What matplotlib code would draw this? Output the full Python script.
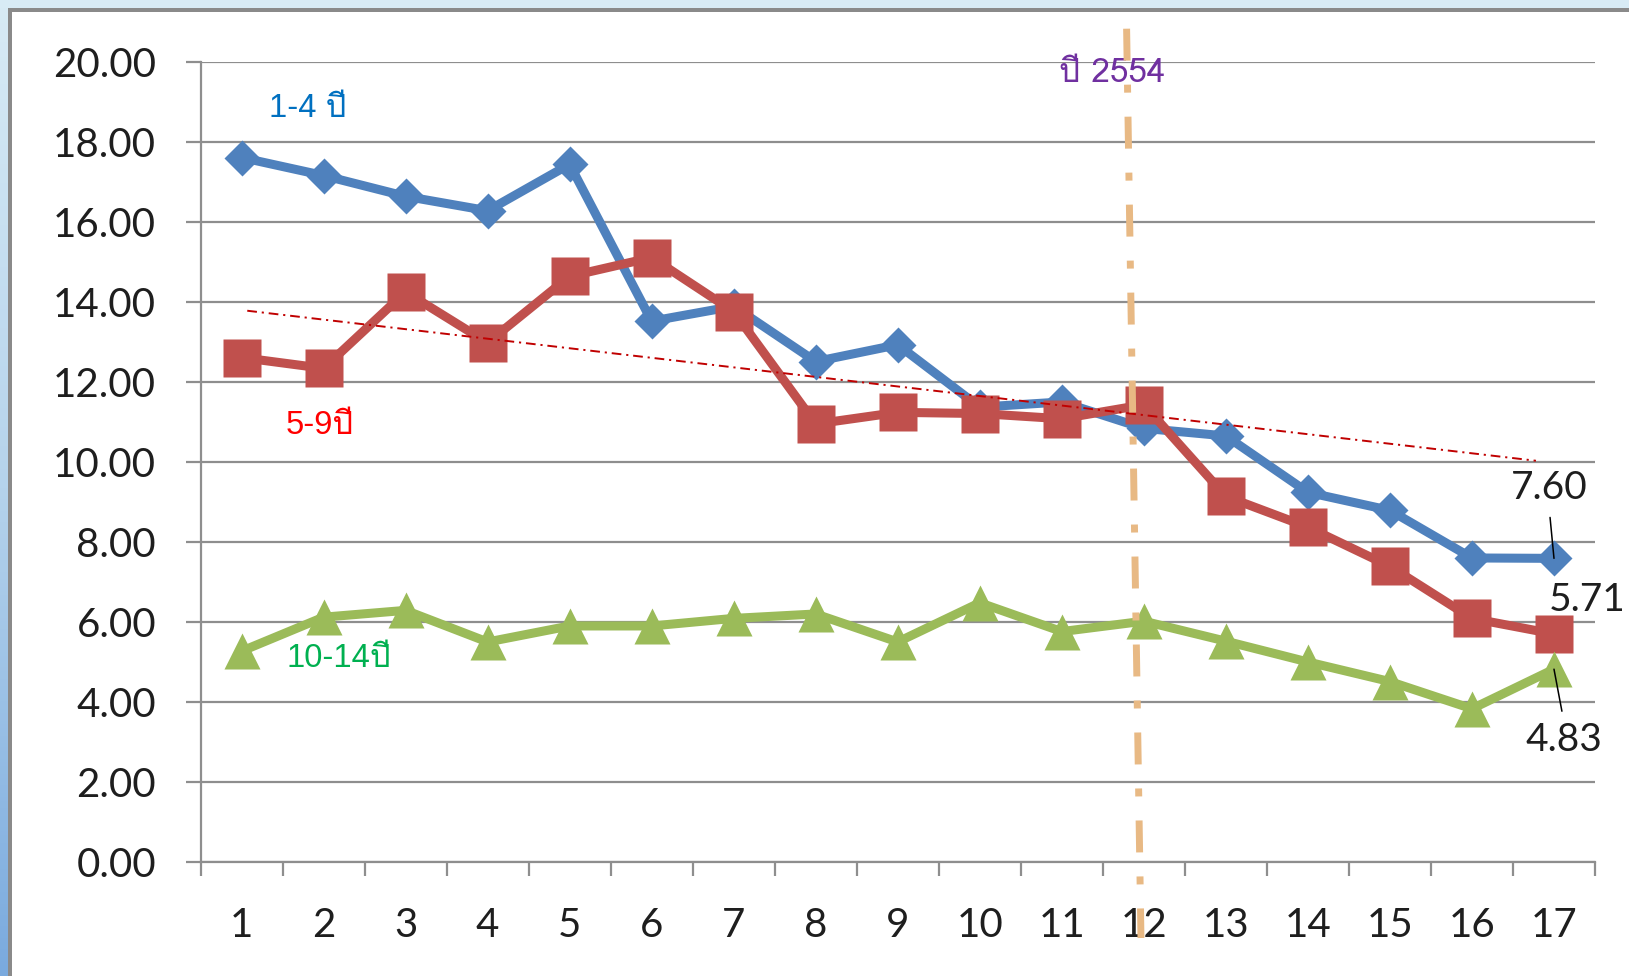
import numpy as np
import matplotlib
matplotlib.use('Agg')
import matplotlib.pyplot as plt
import matplotlib.font_manager as fm
from matplotlib.ft2font import FT2Font
from matplotlib.colors import LinearSegmentedColormap
from matplotlib.patches import Rectangle

# data
periods = list(range(1, 18))
age_1_4 = [17.62, 17.17, 16.65, 16.29, 17.45, 13.53, 13.90, 12.52, 12.94,
           11.38, 11.51, 10.85, 10.66, 9.25, 8.80, 7.61, 7.60]
age_5_9 = [12.62, 12.35, 14.26, 12.99, 14.65, 15.12, 13.77, 10.96, 11.25,
           11.22, 11.09, 11.44, 9.15, 8.38, 7.40, 6.10, 5.71]
age_10_14 = [5.28, 6.13, 6.30, 5.51, 5.91, 5.91, 6.10, 6.21, 5.51,
             6.49, 5.77, 6.03, 5.53, 5.01, 4.52, 3.84, 4.83]
series_names = ['1-4 ปี', '5-9ปี', '10-14ปี']
y_ticks = [0, 2, 4, 6, 8, 10, 12, 14, 16, 18, 20]
trend_x = [1.07, 16.78]
trend_y = [13.79, 10.04]
marker_x = [11.79, 11.965]
marker_y = [20.84, -1.89]
marker_text = 'ปี 2554'


def find_thai_family():
    """Return the name of an installed font that has Thai glyphs."""
    seen = set()
    for f in fm.fontManager.ttflist:
        if f.fname in seen or 'CJK' in f.name:
            continue
        seen.add(f.fname)
        try:
            if 0x0E1B in FT2Font(f.fname).get_charmap():
                return f.name
        except Exception:
            pass
    return None


thai = find_thai_family()
label_family = ['Liberation Sans'] + ([thai] if thai else []) + ['DejaVu Sans']
narrow_family = ['Liberation Sans Narrow'] + ([thai] if thai else []) + ['DejaVu Sans']
num_family = ['Lato', 'DejaVu Sans']

W, H = 1629, 976
fig = plt.figure(figsize=(W / 100, H / 100), dpi=100, facecolor='white')

# slide-like frame around the chart
bg = fig.add_axes([0, 0, 1, 1], zorder=0)
grad = LinearSegmentedColormap.from_list('strip', ['#d8ebf5', '#b5d3ec', '#7aaade'])
bg.imshow(np.linspace(0, 1, 256).reshape(-1, 1), extent=[0, 8, H, 0],
          cmap=grad, aspect='auto')
bg.add_patch(Rectangle((0, 0), W, 8, color='#d8ebf5', lw=0))
bg.add_patch(Rectangle((8, 8), W - 8, 4, color='#8a8a8a', lw=0))
bg.add_patch(Rectangle((8, 8), 4, H - 8, color='#8a8a8a', lw=0))
bg.set_xlim(0, W)
bg.set_ylim(H, 0)
bg.axis('off')

ax = fig.add_axes([200.5 / W, 1 - 862.4 / H, 1394.5 / W, 800.1 / H], zorder=1)
ax.set_facecolor('white')

grid_c = '#8e8e8e'
ax.plot(periods, age_1_4, color='#4f81bd', lw=6.5, marker='D', ms=18.7,
        mec='none', zorder=3)
ax.plot(periods, age_5_9, color='#c0504d', lw=6.5, marker='s', ms=27,
        mec='none', zorder=4)
ax.plot(periods, age_10_14, color='#9bbb59', lw=6.5, marker='^', ms=26,
        mec='none', zorder=5)

# trend line and year marker
ax.plot(trend_x, trend_y, color='#c00000', lw=1.4,
        linestyle=(0, (5, 2.5, 1.1, 2.5)), zorder=6)
ax.plot(marker_x, marker_y, color='#e8b984', lw=5, clip_on=False,
        linestyle=(0, (4.6, 3.46, 1.15, 3.46)), dash_capstyle='butt', zorder=7)

ax.set_xlim(0.5, 17.5)
ax.set_ylim(0, 20)
ax.set_yticks(y_ticks)
ax.set_yticklabels([f'{v:.2f}' for v in y_ticks])
ax.set_xticks(np.arange(0.5, 18, 1))
ax.set_xticklabels([])
ax.set_xticks(periods, minor=True)
ax.set_xticklabels([str(p) for p in periods], minor=True)

ax.yaxis.grid(True, color=grid_c, lw=1.6)
ax.set_axisbelow(True)
for side in ['top', 'right']:
    ax.spines[side].set_visible(False)
for side in ['left', 'bottom']:
    ax.spines[side].set_color(grid_c)
    ax.spines[side].set_linewidth(1.6)

ax.tick_params(axis='y', length=11, width=1.6, color=grid_c, pad=21,
               labelsize=29, labelcolor='#1e1e1e')
ax.tick_params(axis='x', which='major', length=10, width=1.6, color=grid_c)
ax.tick_params(axis='x', which='minor', length=0, pad=32, labelsize=29,
               labelcolor='#1e1e1e')
for lab in ax.get_xticklabels(minor=True) + ax.get_yticklabels():
    lab.set_family(num_family)

# series labels
ax.text(1.81, 18.64, series_names[0], color='#0070c0', fontsize=23.5,
        family=label_family, ha='center', va='baseline', zorder=8)
ax.text(1.95, 10.71, series_names[1], color='#ff0000', fontsize=23.5,
        family=label_family, ha='center', va='baseline', zorder=8)
ax.text(2.19, 4.89, series_names[2], color='#00b050', fontsize=23.5,
        family=label_family, ha='center', va='baseline', zorder=8)
ax.text(11.61, 19.51, marker_text, color='#7030a0', fontsize=24,
        family=narrow_family, ha='center', va='baseline', zorder=6)

# data labels of the last period
lab_kw = dict(textcoords='offset pixels', fontsize=28, family=num_family,
              color='#1e1e1e', zorder=9, annotation_clip=False)
ax.annotate(f'{age_1_4[-1]:.2f}', xy=(17, age_1_4[-1]), xytext=(-5, 70),
            ha='center', va='center',
            arrowprops=dict(arrowstyle='-', color='black', lw=1.1,
                            shrinkA=6, shrinkB=0, relpos=(0.5, 0)), **lab_kw)
ax.annotate(f'{age_5_9[-1]:.2f}', xy=(17, age_5_9[-1]), xytext=(-5, 34),
            ha='left', va='center', **lab_kw)
ax.annotate(f'{age_10_14[-1]:.2f}', xy=(17, age_10_14[-1]), xytext=(10, -71),
            ha='center', va='center',
            arrowprops=dict(arrowstyle='-', color='black', lw=1.1,
                            shrinkA=6, shrinkB=0, relpos=(0.5, 1)), **lab_kw)

fig.savefig('out.png', dpi=100, facecolor='white')
